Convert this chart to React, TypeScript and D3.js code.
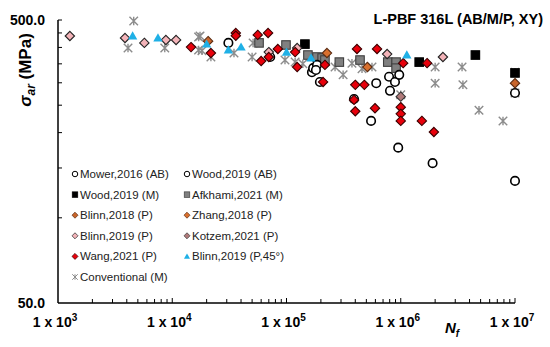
import React from "react"
import * as d3 from "d3"

// [cycles to failure, stress amplitude MPa]
const mower2016AB: [number, number][] = [
  [1.96e5, 302], [5.5e5, 220], [6.1e5, 299], [9.5e5, 177], [1.9e6, 156], [1e7, 135], [3.9e5, 263],
]
const wood2019AB: [number, number][] = [
  [3.1e4, 415], [7.2e4, 370], [1.67e5, 327], [1.71e5, 338], [1.85e5, 347], [1.81e5, 333],
  [7.9e5, 315], [8.9e5, 302], [9.7e5, 320], [8.05e5, 281], [1e7, 276],
]
const wood2019M: [number, number][] = [
  [1.45e5, 411], [1.45e6, 355], [4.5e6, 376], [1e7, 325],
]
const afkhami2021M: [number, number][] = [
  [5.75e4, 415], [9.9e4, 408], [1.54e5, 376], [1.85e5, 370], [2.05e5, 367], [2.17e5, 361],
  [2.9e5, 355], [4.4e5, 361], [7.7e5, 355], [9.1e5, 355], [9.1e5, 338],
]
const blinn2018P: [number, number][] = [
  [2.06e4, 421], [1e7, 299],
]
const zhang2018P: [number, number][] = [
  [2.26e5, 382], [5.1e5, 341],
]
const blinn2019P: [number, number][] = [
  [1.27e3, 439], [3.86e3, 432], [5.7e3, 415], [8.8e3, 425], [1.08e4, 425],
  [7.0e4, 385], [1.24e5, 398], [7.6e5, 379], [2.34e6, 370],
]
const kotzem2021P: [number, number][] = [
  [1.0e6, 268],
]
const wang2021P: [number, number][] = [
  [1.46e4, 401], [2.18e4, 382], [3.6e4, 450], [3.6e4, 440], [5.6e4, 443], [6.9e4, 450],
  [6.0e4, 358], [7.0e4, 370], [8.4e4, 395], [1.19e5, 385], [1.24e5, 341], [2.17e5, 347],
  [2.09e5, 302], [4.14e5, 395], [6.2e5, 395], [4.0e5, 295], [4.8e5, 295], [3.9e5, 261],
  [4.0e5, 238], [5.95e5, 244], [1.0e6, 246], [1.0e6, 233], [1.0e6, 220], [1.05e6, 352],
  [1.7e6, 352], [1.53e6, 220], [1.95e6, 201],
]
const blinn2019P45: [number, number][] = [
  [4.5e3, 439], [7.5e3, 432], [2.0e4, 411], [3.1e4, 392], [4.0e4, 401], [1.0e5, 385],
  [1.64e5, 367], [1.13e6, 376],
]
const conventionalM: [number, number][] = [
  [4.6e3, 496], [4.1e3, 398], [8.6e3, 398], [1.7e4, 435], [1.7e4, 392], [1.75e4, 439],
  [1.82e4, 389], [2.18e4, 370], [3.47e4, 382], [5.1e4, 415], [5.0e4, 370], [9.7e4, 361],
  [1.19e5, 355], [1.39e5, 350], [2.66e5, 341], [3.13e5, 320], [3.74e5, 352], [4.58e5, 336],
  [5.6e5, 341], [1.0e6, 272], [2.0e6, 341], [2.0e6, 299], [3.44e6, 341], [3.5e6, 295],
  [4.84e6, 240], [7.85e6, 220], [1e7, 327], [1e7, 276],
]

const xTickExps = [3, 4, 5, 6, 7]
const yTickLabels = [50, 500]

type Shape = "circle" | "square" | "diamond" | "triangle" | "star"

const series = [
  { name: "Mower,2016 (AB)", data: mower2016AB, shape: "circle", fill: "#fff", stroke: "#000" },
  { name: "Wood,2019 (AB)", data: wood2019AB, shape: "circle", fill: "#fff", stroke: "#000" },
  { name: "Wood,2019 (M)", data: wood2019M, shape: "square", fill: "#000", stroke: "#000" },
  { name: "Afkhami,2021 (M)", data: afkhami2021M, shape: "square", fill: "#808080", stroke: "#404040" },
  { name: "Blinn,2018 (P)", data: blinn2018P, shape: "diamond", fill: "#c8642a", stroke: "#5a2a10" },
  { name: "Zhang,2018 (P)", data: zhang2018P, shape: "diamond", fill: "#d9702e", stroke: "#5a2a10" },
  { name: "Blinn,2019 (P)", data: blinn2019P, shape: "diamond", fill: "#f3b3b8", stroke: "#222" },
  { name: "Kotzem,2021 (P)", data: kotzem2021P, shape: "diamond", fill: "#b07a7a", stroke: "#333" },
  { name: "Wang,2021 (P)", data: wang2021P, shape: "diamond", fill: "#e8000b", stroke: "#3a0000" },
  { name: "Blinn,2019 (P,45°)", data: blinn2019P45, shape: "triangle", fill: "#1fb0e6", stroke: "none" },
  { name: "Conventional (M)", data: conventionalM, shape: "star", fill: "none", stroke: "#8c8c8c" },
]

// legend layout order: two columns
const legendCol1 = ["Mower,2016 (AB)", "Wood,2019 (M)", "Blinn,2018 (P)", "Blinn,2019 (P)", "Wang,2021 (P)", "Conventional (M)"]
const legendCol2 = ["Wood,2019 (AB)", "Afkhami,2021 (M)", "Zhang,2018 (P)", "Kotzem,2021 (P)", "Blinn,2019 (P,45°)"]

const drawOrder = [
  "Conventional (M)", "Afkhami,2021 (M)", "Wood,2019 (M)", "Mower,2016 (AB)", "Wood,2019 (AB)",
  "Blinn,2018 (P)", "Zhang,2018 (P)", "Blinn,2019 (P)", "Kotzem,2021 (P)", "Wang,2021 (P)", "Blinn,2019 (P,45°)",
]

function Marker({ shape, x, y, s, fill, stroke, sw }: any) {
  if (shape === "circle") {
    return <circle cx={x} cy={y} r={s * 0.5} fill={fill} stroke={stroke} strokeWidth={sw} />
  }
  if (shape === "square") {
    return <rect x={x - s / 2} y={y - s / 2} width={s} height={s} fill={fill} stroke={stroke} strokeWidth={sw * 0.7} />
  }
  if (shape === "diamond") {
    const h = s * 0.55
    return <path d={`M${x},${y - h}L${x + h},${y}L${x},${y + h}L${x - h},${y}Z`} fill={fill} stroke={stroke} strokeWidth={sw * 0.7} />
  }
  if (shape === "triangle") {
    const h = s * 0.55
    return <path d={`M${x},${y - h}L${x + h},${y + h * 0.75}L${x - h},${y + h * 0.75}Z`} fill={fill} />
  }
  const h = s * 0.5
  return (
    <path
      d={`M${x - h},${y - h}L${x + h},${y + h}M${x - h},${y + h}L${x + h},${y - h}M${x},${y - h}L${x},${y + h}`}
      stroke={stroke}
      strokeWidth={sw}
      fill="none"
    />
  )
}

export default function App() {
  const x = d3.scaleLog().domain([1e3, 1e7]).range([58, 515])
  const y = d3.scaleLog().domain([50, 500]).range([303, 20])

  const xMinor: number[] = []
  for (let e = 3; e < 7; e++) {
    for (let m = 2; m <= 10; m++) xMinor.push(m * Math.pow(10, e))
  }
  const yMinor = d3.range(100, 501, 50)

  const byName: any = {}
  series.forEach(s => (byName[s.name] = s))

  const font = "Arial, 'Liberation Sans', Helvetica, sans-serif"

  return (
    <svg width={550} height={347} style={{ position: "absolute", left: 0, top: 0, background: "#fff" }} fontFamily={font}>
      {/* axes */}
      <line x1={x(1e3)} x2={x(1e3)} y1={y(500)} y2={y(50)} stroke="#000" strokeWidth={1.5} />
      <line x1={x(1e3)} x2={x(1e7)} y1={y(50)} y2={y(50)} stroke="#000" strokeWidth={1.5} />
      {xMinor.map((v, i) => (
        <line key={"xm" + i} x1={x(v)} x2={x(v)} y1={y(50)} y2={y(50) - (v % 10 === 0 && Math.log10(v) % 1 === 0 ? 5 : 4)} stroke="#000" strokeWidth={1} />
      ))}
      {yMinor.map((v, i) => (
        <line key={"ym" + i} x1={x(1e3)} x2={x(1e3) + 4} y1={y(v)} y2={y(v)} stroke="#000" strokeWidth={1} />
      ))}
      {yTickLabels.map(v => (
        <text key={"yl" + v} x={45} y={y(v) + 5} textAnchor="end" fontSize={14} fontWeight="bold">
          {v.toFixed(1)}
        </text>
      ))}
      {xTickExps.map(e => (
        <text key={"xl" + e} x={x(Math.pow(10, e)) - 3} y={327} textAnchor="middle" fontSize={14} fontWeight="bold">
          1 x 10<tspan fontSize={10} dy={-6}>{e}</tspan>
        </text>
      ))}
      {/* axis titles */}
      <text x={445} y={333} fontSize={15} fontWeight="bold" fontStyle="italic">
        N<tspan fontSize={10} dy={4}>f</tspan>
      </text>
      <text transform="translate(31,70) rotate(-90)" textAnchor="middle" fontSize={17} fontWeight="bold">
        <tspan fontStyle="italic">σ</tspan>
        <tspan fontStyle="italic" fontSize={12} dy={4}>ar</tspan>
        <tspan dy={-4}> (MPa)</tspan>
      </text>
      <text x={543} y={24} textAnchor="end" fontSize={14.5} fontWeight="bold">
        L-PBF 316L (AB/M/P, XY)
      </text>
      {/* data */}
      {drawOrder.map(n => {
        const s = byName[n]
        return (
          <g key={n}>
            {s.data.map((d: [number, number], i: number) => (
              <Marker key={i} shape={s.shape} x={x(d[0])} y={y(d[1])} s={8.5} fill={s.fill} stroke={s.stroke} sw={s.shape === "star" ? 1.4 : 1.6} />
            ))}
          </g>
        )
      })}
      {/* legend */}
      {[legendCol1, legendCol2].map((col, ci) =>
        col.map((n, ri) => {
          const s = byName[n]
          const mx = ci === 0 ? 75 : 187
          const my = 174 + ri * 20.6
          return (
            <g key={n}>
              <Marker shape={s.shape} x={mx} y={my} s={5.5} fill={s.fill} stroke={s.stroke} sw={1} />
              <text x={mx + 5} y={my + 4} fontSize={11.5} fill="#222">
                {n}
              </text>
            </g>
          )
        })
      )}
    </svg>
  )
}
